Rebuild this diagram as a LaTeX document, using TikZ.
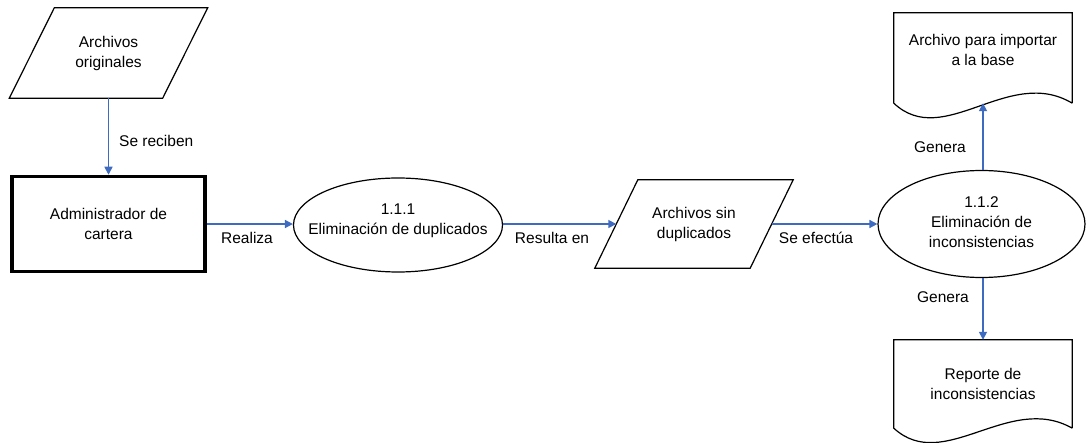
\documentclass[tikz,border=0pt]{standalone}
\usepackage{fontspec}
\setmainfont{Liberation Sans}
\usetikzlibrary{shapes.geometric,arrows.meta,calc}
\definecolor{arrowblue}{HTML}{3E6BC0}
\begin{document}
\begin{tikzpicture}[x=1pt,y=-1pt,
  txt/.style={font=\fontsize{15.5}{20}\selectfont, align=center, inner sep=0pt},
  holder/.style={inner sep=0pt},
  outline/.style={draw=black, line width=1.2pt},
  ellbox/.style={ellipse, draw=black, line width=1.2pt, inner sep=0pt},
  arr/.style={draw=arrowblue, line width=1.6pt, -{Triangle[length=8pt,width=8pt]}}
]
\useasboundingbox (0,0) rectangle (1086,443);

% Archivos originales (parallelogram)
\node[txt, minimum width=153pt, minimum height=90pt] (ao) at (108.5,53) {Archivos\\originales};
\draw[outline] ($(ao.north west)+(22.5,0)$) -- ($(ao.north east)+(22.5,0)$) -- ($(ao.south east)+(-22.5,0)$) -- ($(ao.south west)+(-22.5,0)$) -- cycle;

% Administrador de cartera
\node[txt, draw=black, line width=3.5pt, minimum width=193pt, minimum height=95pt] (adm) at (108.5,224) {Administrador de\\cartera};

% 1.1.1 ellipse
\node[ellbox, minimum width=209pt, minimum height=94pt] (e1) at (398,225) {};
\node[txt] (e1t) at (398,221) {1.1.1\\Eliminación de duplicados};

% Archivos sin duplicados (parallelogram)
\node[txt, minimum width=155pt, minimum height=88pt] (as) at (694,224) {Archivos sin\\duplicados};
\draw[outline] ($(as.north west)+(21.5,0)$) -- ($(as.north east)+(21.5,0)$) -- ($(as.south east)+(-21.5,0)$) -- ($(as.south west)+(-21.5,0)$) -- cycle;

% 1.1.2 ellipse
\node[ellbox, minimum width=207pt, minimum height=107pt] (e2) at (981.5,224) {};
\node[txt] (e2t) at (981.5,222) {1.1.2\\Eliminación de\\inconsistencias};

% Document: Archivo para importar a la base
\node[holder, minimum width=178pt, minimum height=90pt] (d1) at (983,58) {};
\draw[outline] (d1.south east) -- (d1.north east) -- (d1.north west) -- (d1.south west)
  .. controls ($(d1.south west)+(50,47)$) and ($(d1.south west)+(115,-38)$) .. (d1.south east);
\node[txt] (d1t) at (983,50) {Archivo para importar\\a la base};

% Document: Reporte de inconsistencias
\node[txt, minimum width=178pt, minimum height=88pt] (d2) at (983,384) {Reporte de\\inconsistencias};
\draw[outline] (d2.south east) -- (d2.north east) -- (d2.north west) -- (d2.south west)
  .. controls ($(d2.south west)+(50,46)$) and ($(d2.south west)+(115,-36)$) .. (d2.south east);

% Connectors
\draw[arr] (ao.south) -- (adm.north);
\draw[arr] (adm.east) -- (adm.east -| e1.west);
\draw[arr] (e1.east |- as.west) -- (as.west);
\draw[arr] (as.east) -- (e2.west);
\draw[arr] (e2.north -| d1.south) -- (d1.south);
\draw[arr] (e2.south -| d2.north) -- (d2.north);

% Connector labels
\node[txt, anchor=west] (l1) at (119,141) {Se reciben};
\node[txt] (l2) at (247,238) {Realiza};
\node[txt] (l3) at (552,238) {Resulta en};
\node[txt] (l4) at (816,238) {Se efectúa};
\node[txt] (l5) at (940,147) {Genera};
\node[txt] (l6) at (943,297) {Genera};
\end{tikzpicture}
\end{document}
